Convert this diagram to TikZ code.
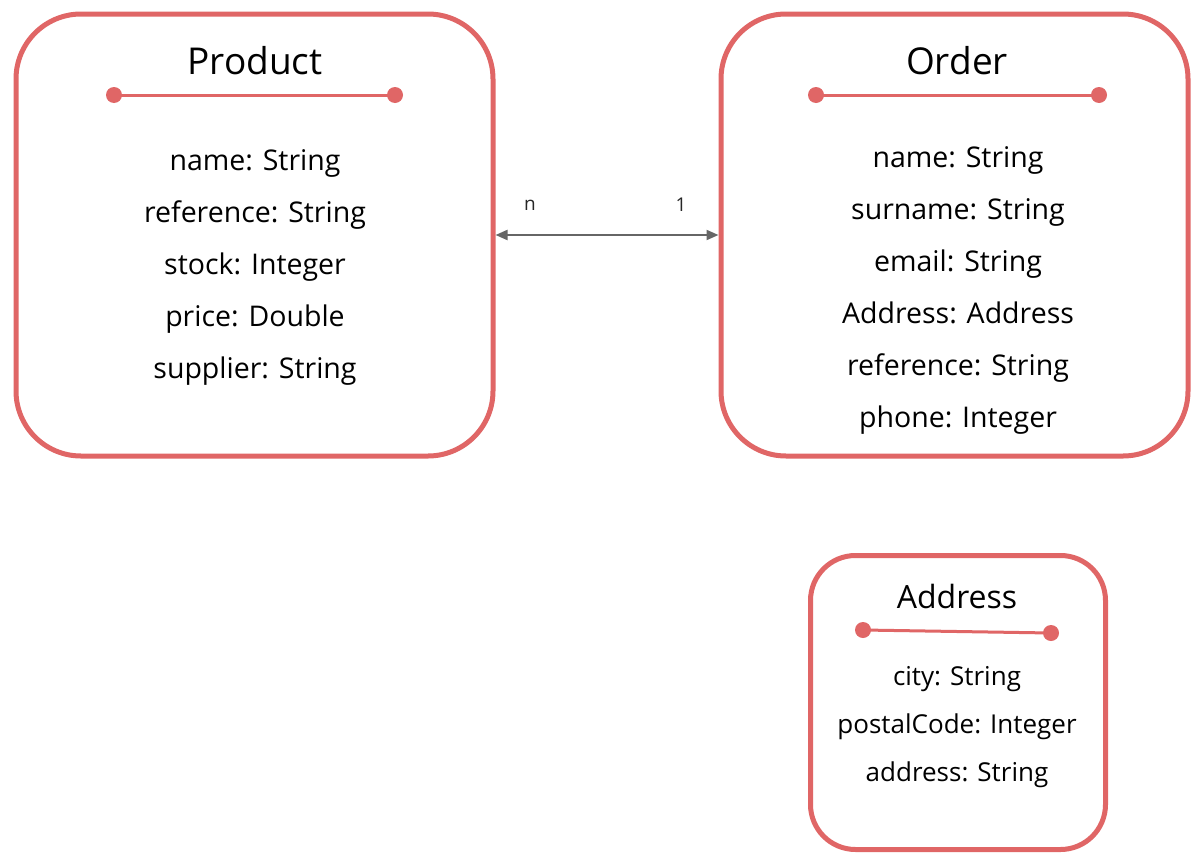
\documentclass[tikz,border=0pt]{standalone}
\usepackage{fontspec}
\setmainfont{Open Sans}
\usetikzlibrary{arrows.meta,shadows}
\definecolor{boxred}{HTML}{E06666}
\definecolor{arrowgray}{HTML}{666666}
\begin{document}
\begin{tikzpicture}[x=1pt, y=-1pt,
        classbox/.style={draw=boxred, line width=5pt, fill=white, rounded corners=65pt,
            drop shadow={shadow xshift=1.5pt, shadow yshift=-1.5pt, opacity=0.25, fill=black}},
        classtitle/.style={font=\fontsize{37}{40}\selectfont, text height=29.6pt, text depth=9.2pt},
        field/.style={font=\fontsize{28.5}{32}\selectfont, text height=22.8pt, text depth=7.1pt},
        smallfield/.style={font=\fontsize{26}{30}\selectfont, text height=20.8pt, text depth=6.5pt},
        divider/.style={draw=boxred, line width=3pt},
        mult/.style={font=\fontsize{19}{22}\selectfont, text=black!85}]
    \useasboundingbox (0,0) rectangle (1192,854);

    % class boxes
    \node[classbox, minimum width=477pt, minimum height=442pt] (product) at (254.5,235) {};
    \node[classbox, minimum width=467pt, minimum height=442pt] (order) at (954.5,235) {};
    \node[classbox, minimum width=295pt, minimum height=294pt, rounded corners=45pt] (address) at (958,702.5) {};

    % Product
    \node[classtitle] (producttitle) at (255,64) {Product};
    \coordinate (pl) at (114,95);
    \coordinate (pr) at (395,95);
    \draw[divider] (pl) -- (pr);
    \fill[boxred] (pl) circle (8pt) (pr) circle (8pt);
    \node[field] (pname) at (255,162.5) {name: String};
    \node[field] (pref) at (255,214.5) {reference: String};
    \node[field] (pstock) at (255,266.5) {stock: Integer};
    \node[field] (pprice) at (255,318.5) {price: Double};
    \node[field] (psupplier) at (255,370.5) {supplier: String};

    % Order
    \node[classtitle] (ordertitle) at (957,64) {Order};
    \coordinate (ol) at (816,95);
    \coordinate (or) at (1099,95);
    \draw[divider] (ol) -- (or);
    \fill[boxred] (ol) circle (8pt) (or) circle (8pt);
    \node[field] (oname) at (958,159.5) {name: String};
    \node[field] (osurname) at (958,211.5) {surname: String};
    \node[field] (oemail) at (958,263.5) {email: String};
    \node[field] (oaddress) at (958,315.5) {Address: Address};
    \node[field] (oref) at (958,367.5) {reference: String};
    \node[field] (ophone) at (958,419.5) {phone: Integer};

    % Address
    \node[classtitle, font=\fontsize{32}{36}\selectfont, text height=25.6pt, text depth=8pt] (addresstitle) at (957,600) {Address};
    \coordinate (al) at (863,630);
    \coordinate (ar) at (1051,633);
    \draw[divider] (al) -- (ar);
    \fill[boxred] (al) circle (8pt) (ar) circle (8pt);
    \node[smallfield] (acity) at (957,678.5) {city: String};
    \node[smallfield] (apostal) at (957,726.5) {postalCode: Integer};
    \node[smallfield] (aaddress) at (957,774.5) {address: String};

    % association
    \draw[arrowgray, line width=2pt, {Triangle[length=12pt,width=10pt]}-{Triangle[length=12pt,width=10pt]}]
        (product.east) -- (order.west);
    \node[mult] (multn) at (530,205) {n};
    \node[mult] (mult1) at (681,205) {1};
\end{tikzpicture}
\end{document}
